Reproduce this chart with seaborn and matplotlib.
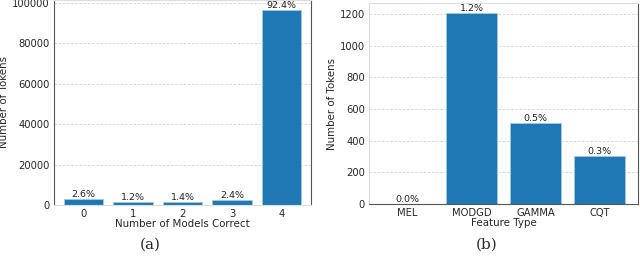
import matplotlib
matplotlib.use("Agg")
import matplotlib.pyplot as plt
import seaborn as sns

# panel (a): tokens by number of models that were correct
models_correct = ["0", "1", "2", "3", "4"]
tokens_a = [2720, 1250, 1460, 2510, 96500]
pct_a = ["2.6%", "1.2%", "1.4%", "2.4%", "92.4%"]

# panel (b): tokens per feature type
feature_types = ["MEL", "MODGD", "GAMMA", "CQT"]
tokens_b = [0, 1210, 515, 302]
pct_b = ["0.0%", "1.2%", "0.5%", "0.3%"]

BAR_COLOR = "#1f77b4"

sns.set_style("white")
plt.rcParams["font.family"] = ["DejaVu Sans"]

fig = plt.figure(figsize=(6.4, 2.6), dpi=100)
ax_a = fig.add_axes([54 / 640, 55 / 260, 257 / 640, 205 / 260])
ax_b = fig.add_axes([369 / 640, 56 / 260, 269 / 640, 201 / 260])


def draw_panel(ax, cats, vals, labels, xlabel):
    sns.barplot(x=cats, y=vals, color=BAR_COLOR, saturation=1, width=0.8,
                edgecolor="#9ecae1", linewidth=0.6, ax=ax)
    ax.set_xlim(-0.6, len(cats) - 0.4)
    ax.set_ylim(0, max(vals) * 1.05)
    ax.yaxis.grid(True, linestyle=(0, (3, 2)), color="#d0d0d0", linewidth=0.6)
    ax.set_axisbelow(True)
    for i, (v, lab) in enumerate(zip(vals, labels)):
        ax.text(i, v, lab, ha="center", va="bottom", fontsize=6.8, color="#222222")
    ax.set_xlabel(xlabel, fontsize=7.4, labelpad=0)
    ax.set_ylabel("Number of Tokens", fontsize=7.4, labelpad=2)
    ax.tick_params(axis="both", labelsize=7.2, length=2, pad=1)
    for s in ax.spines.values():
        s.set_color("#dddddd")
        s.set_linewidth(0.8)


draw_panel(ax_a, models_correct, tokens_a, pct_a, "Number of Models Correct")
draw_panel(ax_b, feature_types, tokens_b, pct_b, "Feature Type")

ax_a.spines["left"].set_color("#555555")
ax_a.spines["right"].set_color("#555555")
ax_b.spines["bottom"].set_color("#555555")
ax_b.spines["right"].set_color("#555555")

fig.text(150 / 640, 1 - 245 / 260, "(a)", ha="center", va="center",
         fontsize=11, family="DejaVu Serif")
fig.text(487 / 640, 1 - 245 / 260, "(b)", ha="center", va="center",
         fontsize=11, family="DejaVu Serif")

fig.savefig("out.png", dpi=100)
